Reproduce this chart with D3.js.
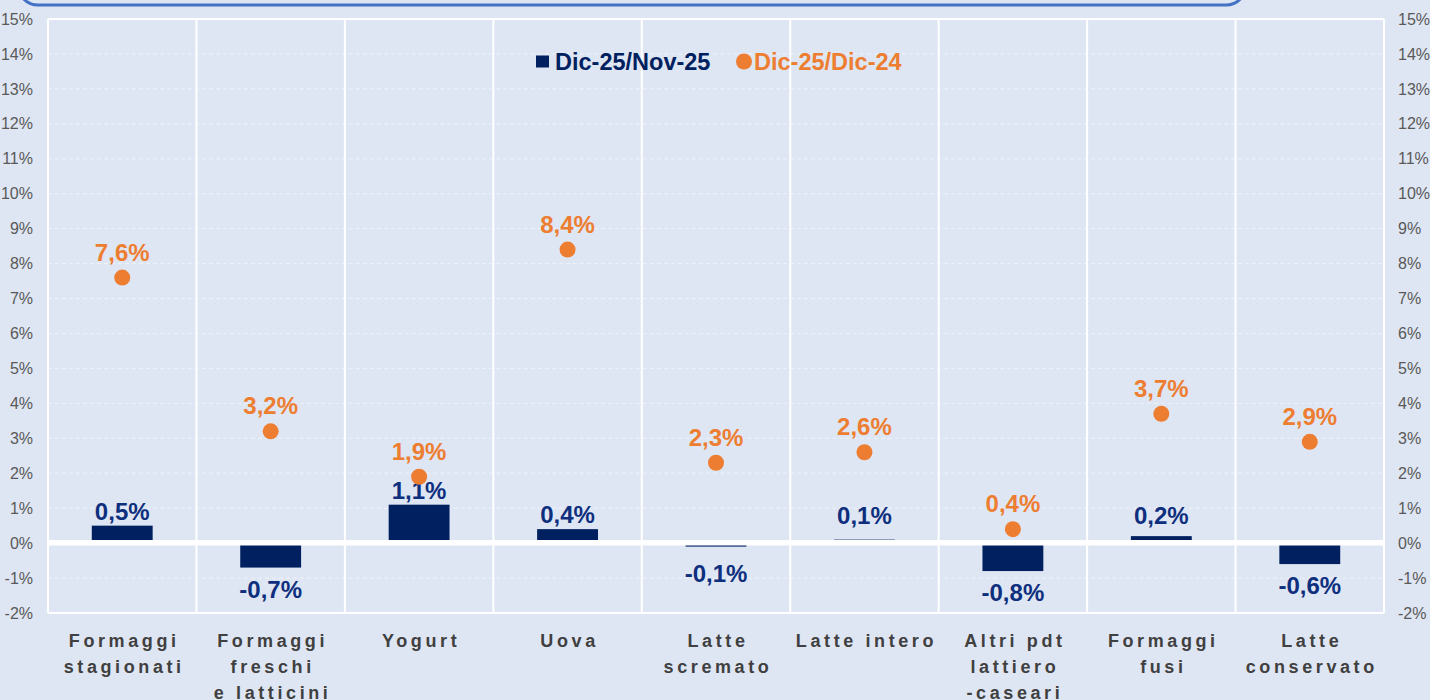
<!DOCTYPE html>
<html>
<head>
<meta charset="utf-8">
<script src="https://cdn.jsdelivr.net/npm/d3@7"></script>
<style>
  body { margin: 0; background: #DFE6F3; }
  svg { display: block; font-family: Arial, "Liberation Sans", sans-serif; }
</style>
</head>
<body>
<div id="chartContainer"></div>
<script>
// Chart data
const categories = [
    ["Formaggi", "stagionati"],
    ["Formaggi", "freschi", "e latticini"],
    ["Yogurt"],
    ["Uova"],
    ["Latte", "scremato"],
    ["Latte intero"],
    ["Altri pdt", "lattiero", "-caseari"],
    ["Formaggi", "fusi"],
    ["Latte", "conservato"]
];
const monthly = [0.5, -0.7, 1.1, 0.4, -0.1, 0.1, -0.8, 0.2, -0.6];   // Dic-25/Nov-25
const yearly = [7.6, 3.2, 1.9, 8.4, 2.3, 2.6, 0.4, 3.7, 2.9];       // Dic-25/Dic-24
const yTicks = [-2, -1, 0, 1, 2, 3, 4, 5, 6, 7, 8, 9, 10, 11, 12, 13, 14, 15];
const seriesNames = ["Dic-25/Nov-25", "Dic-25/Dic-24"];

const navy = "#002060";
const navyText = "#0E2F7E";
const orange = "#ED7D31";

const svgWidth = 1430;
const svgHeight = 700;
const margin = { top: 19, right: 46, bottom: 87, left: 48 };
const chartWidth = svgWidth - margin.left - margin.right;
const chartHeight = svgHeight - margin.top - margin.bottom;

const fmt = v => v.toFixed(1).replace(".", ",") + "%";

const svg = d3.select("#chartContainer")
    .append("svg")
    .attr("width", svgWidth)
    .attr("height", svgHeight);

svg.append("rect")
    .attr("width", svgWidth)
    .attr("height", svgHeight)
    .attr("fill", "#DFE6F3");

// title box peeking in from the top
svg.append("rect")
    .attr("x", 18)
    .attr("y", -60)
    .attr("width", 1228)
    .attr("height", 65)
    .attr("rx", 20)
    .attr("fill", "none")
    .attr("stroke", "#4472C4")
    .attr("stroke-width", 3);

const chart = svg.append("g")
    .attr("transform", `translate(${margin.left}, ${margin.top})`);

const xScale = d3.scaleBand()
    .domain(d3.range(categories.length))
    .range([0, chartWidth]);

const yScale = d3.scaleLinear()
    .domain([-2, 15])
    .range([chartHeight, 0]);

// horizontal dashed grid
chart.selectAll(".hgrid")
    .data(yTicks.filter(t => t !== -2 && t !== 15 && t !== 0))
    .enter()
    .append("line")
    .attr("x1", 0)
    .attr("x2", chartWidth)
    .attr("y1", d => yScale(d))
    .attr("y2", d => yScale(d))
    .attr("stroke", "#EEF2F9")
    .attr("stroke-width", 1)
    .attr("stroke-dasharray", "4,3");

// vertical separators
chart.selectAll(".vgrid")
    .data(d3.range(categories.length + 1))
    .enter()
    .append("line")
    .attr("x1", d => d * xScale.step())
    .attr("x2", d => d * xScale.step())
    .attr("y1", 0)
    .attr("y2", chartHeight)
    .attr("stroke", "#FFFFFF")
    .attr("stroke-width", 2);

// top and bottom border
[15, -2].forEach(v => {
    chart.append("line")
        .attr("x1", 0)
        .attr("x2", chartWidth)
        .attr("y1", yScale(v))
        .attr("y2", yScale(v))
        .attr("stroke", "#FFFFFF")
        .attr("stroke-width", 2);
});

// axes
const leftAxis = d3.axisLeft(yScale)
    .tickValues(yTicks)
    .tickFormat(d => d + "%")
    .tickSize(0)
    .tickPadding(15);
const rightAxis = d3.axisRight(yScale)
    .tickValues(yTicks)
    .tickFormat(d => d + "%")
    .tickSize(0)
    .tickPadding(14);

[chart.append("g").call(leftAxis),
 chart.append("g").attr("transform", `translate(${chartWidth}, 0)`).call(rightAxis)]
    .forEach(g => {
        g.select(".domain").remove();
        g.selectAll("text")
            .attr("fill", "#595959")
            .style("font-size", "16px");
    });

const barWidth = xScale.bandwidth() * 0.41;
const cx = i => xScale(i) + xScale.bandwidth() / 2;

// bars
chart.selectAll(".bar")
    .data(monthly)
    .enter()
    .append("rect")
    .attr("x", (d, i) => cx(i) - barWidth / 2)
    .attr("y", d => yScale(Math.max(0, d)))
    .attr("width", barWidth)
    .attr("height", d => Math.abs(yScale(d) - yScale(0)))
    .attr("fill", navy);

// zero line
chart.append("line")
    .attr("x1", 0)
    .attr("x2", chartWidth)
    .attr("y1", yScale(0) - 0.4)
    .attr("y2", yScale(0) - 0.4)
    .attr("stroke", "#FFFFFF")
    .attr("stroke-width", 5.6);

// bar labels (kept clear of the zero line for small values)
chart.selectAll(".barLabel")
    .data(monthly)
    .enter()
    .append("text")
    .attr("x", (d, i) => cx(i))
    .attr("y", d => d >= 0
        ? Math.min(yScale(d) - 6, yScale(0) - 19)
        : Math.max(yScale(d) + 30, yScale(0) + 39))
    .attr("text-anchor", "middle")
    .attr("fill", navyText)
    .style("font-size", "24px")
    .style("font-weight", "bold")
    .text(d => fmt(d));

// dots
chart.selectAll(".dot")
    .data(yearly)
    .enter()
    .append("circle")
    .attr("cx", (d, i) => cx(i))
    .attr("cy", d => yScale(d))
    .attr("r", 8)
    .attr("fill", orange);

chart.selectAll(".dotLabel")
    .data(yearly)
    .enter()
    .append("text")
    .attr("x", (d, i) => cx(i))
    .attr("y", d => yScale(d) - 17)
    .attr("text-anchor", "middle")
    .attr("fill", orange)
    .style("font-size", "24px")
    .style("font-weight", "bold")
    .text(d => fmt(d));

// category labels
const catLabels = chart.selectAll(".cat")
    .data(categories)
    .enter()
    .append("text")
    .attr("text-anchor", "middle")
    .attr("fill", "#404040")
    .style("font-size", "18px")
    .style("font-weight", "bold")
    .style("letter-spacing", "3.6px");

catLabels.each(function(lines, i) {
    const t = d3.select(this);
    lines.forEach((line, j) => {
        t.append("tspan")
            .attr("x", cx(i) + 2)
            .attr("y", chartHeight + 34 + j * 26)
            .text(line);
    });
});

// legend
const legend = svg.append("g").attr("transform", "translate(536, 62)");
legend.append("rect")
    .attr("x", 0)
    .attr("y", -6.5)
    .attr("width", 13)
    .attr("height", 12)
    .attr("fill", navy);
legend.append("text")
    .attr("x", 19)
    .attr("y", 8)
    .attr("fill", navy)
    .style("font-size", "23.5px")
    .style("font-weight", "bold")
    .text(seriesNames[0]);
legend.append("circle")
    .attr("cx", 208)
    .attr("cy", -0.5)
    .attr("r", 8)
    .attr("fill", orange);
legend.append("text")
    .attr("x", 218)
    .attr("y", 8)
    .attr("fill", orange)
    .style("font-size", "23.5px")
    .style("font-weight", "bold")
    .text(seriesNames[1]);
</script>
</body>
</html>
